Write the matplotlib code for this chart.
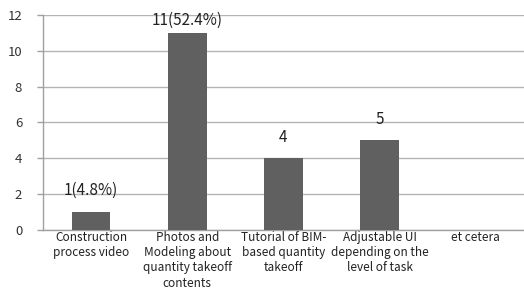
import matplotlib
matplotlib.use("Agg")
import matplotlib.pyplot as plt

categories = [
    "Construction\nprocess video",
    "Photos and\nModeling about\nquantity takeoff\ncontents",
    "Tutorial of BIM-\nbased quantity\ntakeoff",
    "Adjustable UI\ndepending on the\nlevel of task",
    "et cetera",
]
values = [1, 11, 4, 5, 0]
value_labels = ["1(4.8%)", "11(52.4%)", "4", "5", ""]
y_ticks = [0, 2, 4, 6, 8, 10, 12]

plt.rcParams['font.family'] = ['Noto Sans CJK KR', 'DejaVu Sans']

fig = plt.figure(figsize=(5.24, 2.91), dpi=100)
ax = fig.add_axes([0.082, 0.211, 0.918, 0.737])

x = list(range(len(categories)))
bars = ax.bar(x, values, width=0.4, color="#606060", zorder=3)

label_offsets = [9, 3, 9, 9, 9]
for xi, v, lab, off in zip(x, values, value_labels, label_offsets):
    if lab:
        ax.annotate(lab, (xi, v), xytext=(0, off), textcoords="offset points",
                    ha="center", va="bottom", fontsize=11, color="#222222",
                    zorder=4)

ax.set_xlim(-0.5, len(categories) - 0.5)
ax.set_ylim(0, 12)
ax.set_yticks(y_ticks)
ax.set_yticklabels([str(t) for t in y_ticks], fontsize=9.5, color="#333333")
ax.set_xticks(x)
ax.set_xticklabels(categories, fontsize=8.5, color="#222222", linespacing=1.22)
ax.tick_params(axis="x", length=0, pad=1)
ax.tick_params(axis="y", length=4, color="#a0a0a0", width=1, pad=11)

ax.grid(axis="y", color="#b4b4b4", linewidth=1, zorder=0)
for s in ["top", "right"]:
    ax.spines[s].set_visible(False)
ax.spines["left"].set_color("#a0a0a0")
ax.spines["bottom"].set_color("#a0a0a0")
ax.spines["left"].set_linewidth(1)
ax.spines["bottom"].set_linewidth(1)

fig.savefig("out.png", dpi=100)
